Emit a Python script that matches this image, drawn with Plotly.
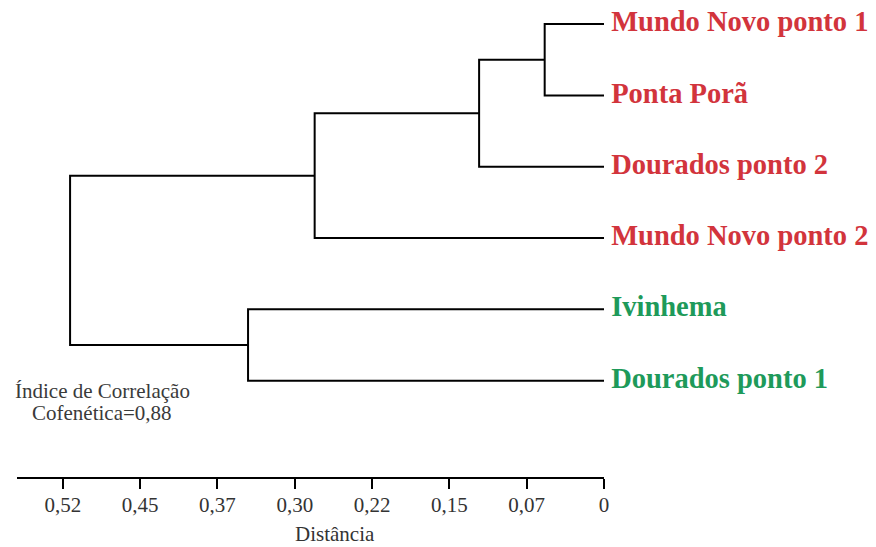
import plotly.graph_objects as go

# Leaves, top to bottom, and their group colours
leaves = ["Mundo Novo ponto 1", "Ponta Porã", "Dourados ponto 2",
          "Mundo Novo ponto 2", "Ivinhema", "Dourados ponto 1"]
leaf_colors = ["#d2343c", "#d2343c", "#d2343c", "#d2343c", "#1e9a5a", "#1e9a5a"]

# Linkage: (left child, right child, distance); children are leaf indices
# or "n<k>" for the k-th merge below
merges = [
    (0, 1, 0.057),
    ("n0", 2, 0.120),
    ("n1", 3, 0.278),
    (4, 5, 0.342),
    ("n2", "n3", 0.513),
]

tick_vals = [0.52, 0.4457, 0.3714, 0.2971, 0.2229, 0.1486, 0.0743, 0.0]
tick_text = ["0,52", "0,45", "0,37", "0,30", "0,22", "0,15", "0,07", "0"]

axis_title = "Distância"
note_lines = ["Índice de Correlação", "Cofenética=0,88"]

serif = "Liberation Serif, Times New Roman, serif"

W, H = 876, 547
M = dict(l=17, r=272, t=10, b=70)
plot_w = W - M["l"] - M["r"]
plot_h = H - M["t"] - M["b"]


def paper_x(px):
    return (px - M["l"]) / plot_w


def paper_y(py):
    return 1 - (py - M["t"]) / plot_h


# Resolve each node to (y position, height)
pos = {i: (float(i), 0.0) for i in range(len(leaves))}
seg_x, seg_y = [], []
for k, (a, b, h) in enumerate(merges):
    ya, ha = pos[a]
    yb, hb = pos[b]
    seg_x += [ha, h, h, hb, None]
    seg_y += [ya, ya, yb, yb, None]
    pos["n%d" % k] = ((ya + yb) / 2, h)

fig = go.Figure()
fig.add_trace(go.Scatter(
    x=seg_x, y=seg_y, mode="lines",
    line=dict(color="black", width=2),
    cliponaxis=False, hoverinfo="skip", showlegend=False,
))
fig.add_trace(go.Scatter(
    x=[0.0] * len(leaves), y=list(range(len(leaves))),
    mode="text", text=[" " + s for s in leaves],
    textposition="middle right",
    textfont=dict(family=serif, size=28.5, color=leaf_colors, weight="bold"),
    cliponaxis=False, hoverinfo="skip", showlegend=False,
))

# Two-line note with tight line spacing
for i, line in enumerate(note_lines):
    fig.add_annotation(
        text=line, xref="paper", yref="paper",
        x=paper_x(102), y=paper_y(391 + 22 * i),
        xanchor="center", yanchor="middle", showarrow=False,
        font=dict(family=serif, size=21, color="#3a3a3a"),
    )

# Axis title placed below the tick labels
fig.add_annotation(
    text=axis_title, xref="paper", yref="paper",
    x=paper_x(335), y=paper_y(534),
    xanchor="center", yanchor="middle", showarrow=False,
    font=dict(family=serif, size=21, color="#333333"),
)

fig.update_layout(
    width=W, height=H,
    margin=M,
    paper_bgcolor="white", plot_bgcolor="white",
    xaxis=dict(
        range=[0.564, 0.0], automargin=False,
        tickmode="array", tickvals=tick_vals, ticktext=tick_text,
        ticks="outside", ticklen=10, tickwidth=2, tickcolor="black",
        ticklabelstandoff=-2,
        showline=True, linecolor="black", linewidth=2,
        showgrid=False, zeroline=False,
        tickfont=dict(family=serif, size=21, color="#333333"),
    ),
    yaxis=dict(
        range=[6.35, -0.197], visible=False, automargin=False,
        showgrid=False, zeroline=False,
    ),
)

fig.write_html("out.html")
